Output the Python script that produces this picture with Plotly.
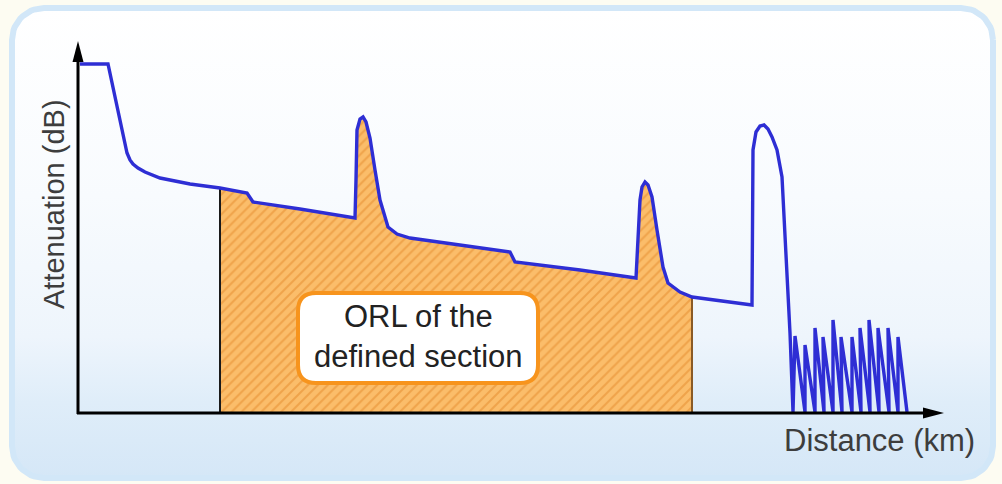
import numpy as np
import plotly.graph_objects as go

# ---- OTDR trace (distance, attenuation) in arbitrary chart units ----
distance = [2, 30, 49, 52, 55, 60, 67, 82, 112, 142, 169, 175, 222, 277, 278, 279, 282, 285, 288, 292, 297,
            302, 310, 319, 332, 432, 437, 502, 558, 562, 564, 567, 570, 574, 579, 585, 590, 602, 614,
            674, 675, 678, 682, 686, 690, 694, 699, 704, 712, 715,
            717, 727, 727, 737, 737, 746, 745, 755, 755, 764, 763, 774, 774, 783, 782, 792, 791, 801,
            800, 811, 810, 820, 820, 829]
attenuation = [349, 349, 260, 253, 249, 245, 241, 235, 229, 225, 220, 211, 204, 195, 233, 283, 294, 296, 291, 275, 243,
               213, 186, 179, 175, 161, 151, 143, 135, 213, 226, 231, 228, 216, 183, 146, 130, 121, 116,
               108, 263, 281, 287, 288, 284, 276, 263, 236, 80, 1,
               77, 1, 68, 1, 85, 1, 76, 1, 93, 1, 76, 1, 76, 1, 85, 1, 93, 1,
               85, 1, 85, 1, 76, 1]

SECTION_START = 142
SECTION_END = 614

xs = np.array(distance, dtype=float)
ys = np.array(attenuation, dtype=float)
main = xs <= 680
mask = (xs > SECTION_START) & (xs < SECTION_END)
fx = [SECTION_START] + list(xs[mask]) + [SECTION_END]
fy = [float(np.interp(SECTION_START, xs[main], ys[main]))] + list(ys[mask]) + \
     [float(np.interp(SECTION_END, xs[main], ys[main]))]

fig = go.Figure()

# ---- decorative rounded panel with vertical gradient ----
def rounded_rect(x0, y0, x1, y1, r, n=16):
    px, py = [], []
    corners = [(x1 - r, y1 - r, 0, 90), (x0 + r, y1 - r, 90, 180),
               (x0 + r, y0 + r, 180, 270), (x1 - r, y0 + r, 270, 360)]
    for cx, cy, a0, a1 in corners:
        t = np.radians(np.linspace(a0, a1, n))
        px += list(cx + r * np.cos(t))
        py += list(cy + r * np.sin(t))
    px.append(px[0]); py.append(py[0])
    return px, py

bx, by = rounded_rect(-66, -65, 915, 405, 32)
fig.add_trace(go.Scatter(
    x=bx, y=by, mode="lines", fill="toself",
    line=dict(color="#d2e7f8", width=6),
    fillgradient=dict(type="vertical",
                      colorscale=[[0, "#d5e7f7"], [0.16, "#dfedf9"], [0.3, "#eef5fc"],
                                  [0.6, "#f8fbfe"], [1, "#ffffff"]]),
    hoverinfo="skip", showlegend=False))

# ---- hatched ORL section ----
fig.add_trace(go.Scatter(
    x=fx, y=fy, mode="lines", fill="tozeroy",
    line=dict(width=0, color="rgba(0,0,0,0)"),
    fillcolor="#fbbd6a",
    fillpattern=dict(shape="/", bgcolor="#fbbd6a", fgcolor="#e48a2c", size=7, solidity=0.3),
    hoverinfo="skip", showlegend=False))

# section borders
fig.add_trace(go.Scatter(x=[fx[0], fx[0]], y=[0, fy[0]], mode="lines",
                         line=dict(color="#1a1a1a", width=2), showlegend=False, hoverinfo="skip"))
fig.add_trace(go.Scatter(x=[fx[-1], fx[-1]], y=[0, fy[-1]], mode="lines",
                         line=dict(color="#8a5a25", width=2), showlegend=False, hoverinfo="skip"))

# ---- trace line ----
fig.add_trace(go.Scatter(x=distance, y=attenuation, mode="lines",
                         line=dict(color="#2e2ed4", width=3.4, shape="linear"), showlegend=False))

# ---- axes (black arrows) ----
shapes = [
    dict(type="line", x0=0, y0=-1, x1=0, y1=356, line=dict(color="#000", width=3)),
    dict(type="path", path="M -5.5 351 L 0 372 L 5.5 351 Z", fillcolor="#000", line=dict(width=0)),
    dict(type="line", x0=-1, y0=0, x1=848, y1=0, line=dict(color="#000", width=3)),
    dict(type="path", path="M 845 -5.5 L 866 0 L 845 5.5 Z", fillcolor="#000", line=dict(width=0)),
]

# ---- ORL label box ----
r = 18
x0, x1, y0, y1 = 220, 460, 30, 120
box = (f"M {x0+r} {y0} L {x1-r} {y0} Q {x1} {y0} {x1} {y0+r} L {x1} {y1-r} Q {x1} {y1} {x1-r} {y1} "
       f"L {x0+r} {y1} Q {x0} {y1} {x0} {y1-r} L {x0} {y0+r} Q {x0} {y0} {x0+r} {y0} Z")
shapes.append(dict(type="path", path=box, fillcolor="#ffffff", line=dict(color="#f7941d", width=4)))

font = "Liberation Sans, Arial, sans-serif"
annotations = [
    dict(x=340, y=77, text="ORL of the<br>defined section", showarrow=False,
         font=dict(family=font, size=31, color="#222222")),
    dict(x=-24, y=209, text="Attenuation (dB)", textangle=-90, showarrow=False,
         font=dict(family=font, size=29, color="#3d3d3d")),
    dict(x=801, y=-27, text="Distance (km)", showarrow=False,
         font=dict(family=font, size=31, color="#3d3d3d")),
]

fig.update_layout(
    width=1002, height=484,
    margin=dict(l=0, r=0, t=0, b=0),
    paper_bgcolor="#fdfcf2", plot_bgcolor="rgba(0,0,0,0)",
    xaxis=dict(range=[-78, 924], visible=False, fixedrange=True),
    yaxis=dict(range=[-71, 413], visible=False, fixedrange=True),
    shapes=shapes, annotations=annotations, showlegend=False,
)

fig.write_html("out.html", config={"displayModeBar": False},
               post_script="document.body.style.margin='0';document.body.style.overflow='hidden';")
